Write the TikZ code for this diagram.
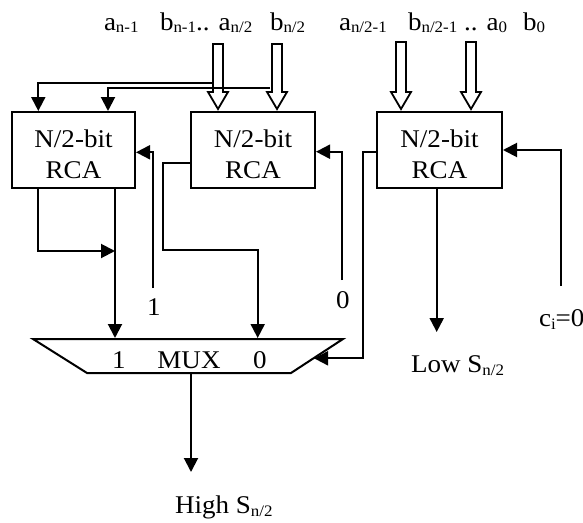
\documentclass[tikz,border=0pt]{standalone}
\usepackage{fontspec}
\setmainfont{Liberation Serif}[FakeStretch=1.06]
\usetikzlibrary{arrows.meta,calc}
\newcommand\sbs[1]{\raisebox{-2.7pt}{\fontsize{16}{16}\selectfont #1}}
\newcommand\hollowarrow[2]{\draw[holw] let \p1=(#1), \p2=(#2) in
  (\x1-5pt,\y1) -- (\x1+5pt,\y1) -- (\x1+5pt,\y2+17pt) -- (\x1+10pt,\y2+17pt)
  -- (\x1,\y2) -- (\x1-10pt,\y2+17pt) -- (\x1-5pt,\y2+17pt) -- cycle;}
\begin{document}
\begin{tikzpicture}[x=1pt,y=-1pt, line width=2pt,
  box/.style={draw, rectangle, minimum height=76pt, inner sep=0pt},
  txt/.style={font=\fontsize{25.5}{31}\selectfont, inner sep=0pt},
  arr/.style={-{Triangle[width=14pt,length=14pt]}},
  holw/.style={draw, fill=white, line width=1.8pt, line join=miter}]
\useasboundingbox (0,0) rectangle (583,522);

% adders
\node[box, minimum width=123pt] (L) at (73.5,150) {};
\node[box, minimum width=124pt] (M) at (253,150) {};
\node[box, minimum width=125pt] (R) at (439.5,150) {};
\node[txt, align=center] (Lt) at (73.5,154.5) {N/2-bit\\RCA};
\node[txt, align=center] (Mt) at (253,154.5) {N/2-bit\\RCA};
\node[txt, align=center] (Rt) at (439.5,154.5) {N/2-bit\\RCA};

% top labels
\node[txt, anchor=base west] (ta1) at (103,30) {a\sbs{n-1}};
\node[txt, anchor=base west] (ta2) at (159,30) {b\sbs{n-1}.. a\sbs{n/2}};
\node[txt, anchor=base west] (ta3) at (269,30) {b\sbs{n/2}};
\node[txt, anchor=base west] (ta4) at (338,30) {a\sbs{n/2-1}};
\node[txt, anchor=base west] (ta5) at (407,30) {b\sbs{n/2-1} .. a\sbs{0}};
\node[txt, anchor=base west] (ta6) at (522,30) {b\sbs{0}};

% bus arrows
\coordinate (h1) at (218,44);
\coordinate (h2) at (277,44);
\coordinate (h3) at (401,42);
\coordinate (h4) at (471,42);
\hollowarrow{h1}{$(h1|-M.north)+(0,-2)$}
\hollowarrow{h2}{$(h2|-M.north)+(0,-2)$}
\hollowarrow{h3}{$(h3|-R.north)+(0,-2)$}
\hollowarrow{h4}{$(h4|-R.north)+(0,-2)$}

% taps to left adder
\coordinate (t1) at (212,83.3);
\coordinate (t2) at (270,88.3);
\draw[arr] (t1) -| ($(L.north west)+(27.3,0)$);
\draw[arr] (t2) -| ($(L.north west)+(97,0)$);

% carry-in 1 to left adder
\coordinate (one) at (153.3,288);
\draw[arr] (one) |- ($(L.east)+(0,2.3)$);
\node[txt, anchor=base] (onel) at (153.8,315) {1};

% carry-in 0 to middle adder
\coordinate (zero) at (342.3,280);
\draw[arr] (zero) |- ($(M.east)+(0,1.7)$);
\node[txt, anchor=base] (zerol) at (343,308) {0};

% carry-in to right adder
\coordinate (ci) at (561,286);
\draw[arr] (ci) |- (R.east);
\node[txt, anchor=base west] (cil) at (538,326.7) {c\sbs{i}=0};

% mux
\draw[line join=miter] (33,339) -- (343,339) -- (291,373) -- (87,373) -- cycle;
\node[txt, anchor=base] (m1) at (119,368) {1};
\node[txt, anchor=base] (mx) at (189,368) {MUX};
\node[txt, anchor=base] (m0) at (260,368) {0};
\coordinate (mux1) at (115,338);
\coordinate (mux0) at (257.7,338);
\coordinate (sel) at (314,358.3);
\coordinate (muxout) at (191,373);

% left adder outputs
\coordinate (j1) at (115,251);
\draw[arr] (mux1 |- L.south) -- (mux1);
\draw[arr] ($(L.south west)+(27.3,0)$) |- (j1);

% middle adder output
\draw[arr] ($(M.west)+(0,13.3)$) -| (163.3,250) -| (mux0);

% right adder carry-out to mux select
\draw[arr] ($(R.west)+(0,1.7)$) -| (363.3,358.3) -- (sel);

% low sum
\coordinate (lowend) at (436.7,332);
\draw[arr] (lowend |- R.south) -- (lowend);
\node[txt, anchor=base west] (lowl) at (410,372.7) {Low S\sbs{n/2}};

% high sum
\coordinate (highend) at (191,472);
\draw[arr] (muxout) -- (highend);
\node[txt, anchor=base west] (highl) at (174,513.3) {High S\sbs{n/2}};
\end{tikzpicture}
\end{document}
